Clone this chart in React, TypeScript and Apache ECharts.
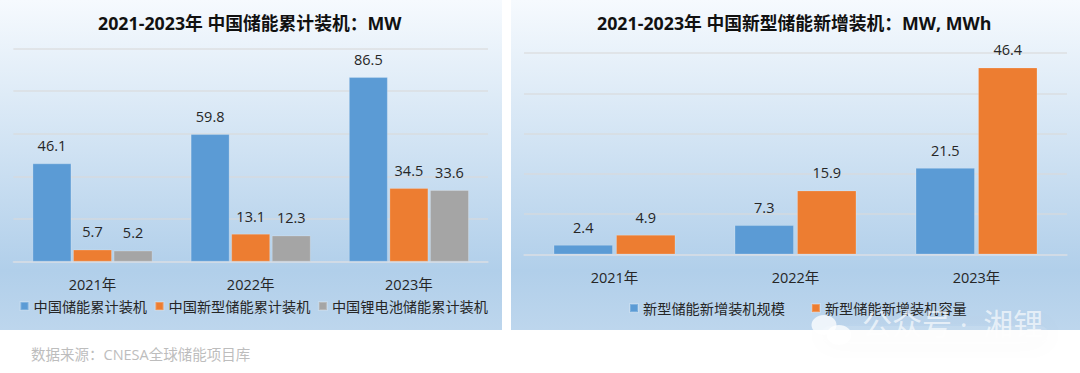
import React, { useEffect, useRef } from "react";
import * as echarts from "echarts";

const categories = ["2021年", "2022年", "2023年"];
const cumulativeTotal = [46.1, 59.8, 86.5];
const cumulativeNewType = [5.7, 13.1, 34.5];
const cumulativeLithium = [5.2, 12.3, 33.6];
const addedPower = [2.4, 7.3, 21.5];
const addedEnergy = [4.9, 15.9, 46.4];

const BLUE = "#5b9bd5";
const ORANGE = "#ed7d31";
const GRAY = "#a5a5a5";
const TEXT = "#262626";
const FONT = "'Open Sans', 'Noto Sans CJK SC', sans-serif";

const panelFill = {
  type: "linear", x: 0, y: 0, x2: 0, y2: 1,
  colorStops: [
    { offset: 0, color: "#f6fafe" },
    { offset: 0.82, color: "#b1cfea" },
    { offset: 1, color: "#bdd6ed" },
  ],
};

const barSeries = (name: string, data: number[], color: string, idx: number, width: number, gap: string, labelDist: number) => ({
  name,
  type: "bar",
  data,
  xAxisIndex: idx,
  yAxisIndex: idx,
  barWidth: width,
  barGap: gap,
  itemStyle: { color, borderColor: "rgba(255,255,255,0.2)", borderWidth: 1 },
  label: {
    show: true,
    position: "top",
    distance: labelDist,
    fontFamily: FONT,
    fontSize: 14.5,
    color: TEXT,
    formatter: (p: any) => p.value.toFixed(1),
  },
});

const xAxis = (gridIndex: number, margin: number) => ({
  type: "category",
  gridIndex,
  data: categories,
  axisTick: { show: false },
  axisLine: { lineStyle: { color: "#d3dde8", width: 1.5 } },
  axisLabel: { fontFamily: FONT, fontSize: 14.5, color: TEXT, margin },
});

const yAxis = (gridIndex: number, max: number, interval: number) => ({
  type: "value",
  gridIndex,
  min: 0,
  max,
  interval,
  axisLabel: { show: false },
  axisLine: { show: false },
  axisTick: { show: false },
  splitLine: { lineStyle: { color: "rgba(217,217,217,0.75)", width: 1.5 } },
});

const legend = (left: number, top: number, gap: number, names: string[]) => ({
  left,
  top,
  padding: 0,
  itemWidth: 8,
  itemHeight: 8,
  itemGap: gap,
  icon: "rect",
  selectedMode: false,
  data: names,
  textStyle: { fontFamily: FONT, fontSize: 14.2, color: TEXT },
});

const title = (text: string, left: number) => ({
  text,
  left,
  top: 14.5,
  padding: 0,
  textStyle: { fontFamily: FONT, fontSize: 17.8, fontWeight: "bold", color: "#111" },
});

export default function App() {
  const ref = useRef<HTMLDivElement>(null);
  useEffect(() => {
    document.body.style.margin = "0";
    const chart = echarts.init(ref.current!, undefined, { renderer: "svg" });
    chart.setOption({
      animation: false,
      backgroundColor: "#ffffff",
      title: [
        title("2021-2023年 中国储能累计装机：MW", 98),
        title("2021-2023年 中国新型储能新增装机：MW, MWh", 597),
      ],
      grid: [
        { left: 13.4, top: 48.3, width: 474.6, height: 213.4 },
        { left: 524, top: 53, width: 543, height: 201.5 },
      ],
      xAxis: [xAxis(0, 15.5), xAxis(1, 15.5)],
      yAxis: [yAxis(0, 100, 20), yAxis(1, 50, 10)],
      legend: [
        legend(19.5, 299, 7.5, ["中国储能累计装机", "中国新型储能累计装机", "中国锂电池储能累计装机"]),
        legend(629, 301, 26, ["新型储能新增装机规模", "新型储能新增装机容量"]),
      ],
      series: [
        barSeries("中国储能累计装机", cumulativeTotal, BLUE, 0, 39, "4%", 10.5),
        barSeries("中国新型储能累计装机", cumulativeNewType, ORANGE, 0, 39, "4%", 10.5),
        barSeries("中国锂电池储能累计装机", cumulativeLithium, GRAY, 0, 39, "4%", 10.5),
        barSeries("新型储能新增装机规模", addedPower, BLUE, 1, 59.5, "5%", 10.5),
        barSeries("新型储能新增装机容量", addedEnergy, ORANGE, 1, 59.5, "5%", 10.5),
      ],
      graphic: [
        { type: "rect", z: -10, silent: true, shape: { x: 0, y: 0, width: 502, height: 330 }, style: { fill: panelFill } },
        { type: "rect", z: -10, silent: true, shape: { x: 511, y: 0, width: 569, height: 330 }, style: { fill: panelFill } },
        {
          type: "text", left: 31, top: 347, z: 50, silent: true,
          style: { text: "数据来源：CNESA全球储能项目库", fill: "#bdbdbd", font: `14.5px ${FONT}` },
        },
        { type: "rect", z: 90, silent: true, shape: { x: 822, y: 326, width: 226, height: 16, r: 8 }, style: { fill: "rgba(244,246,248,0.12)", shadowBlur: 26, shadowColor: "rgba(120,120,120,0.22)" } },
        { type: "ellipse", z: 100, silent: true, shape: { cx: 824, cy: 325, rx: 12.5, ry: 10 }, style: { fill: "rgba(255,255,255,0.75)" } },
        { type: "ellipse", z: 100, silent: true, shape: { cx: 839, cy: 335, rx: 12.5, ry: 10 }, style: { fill: "rgba(255,255,255,0.75)" } },
        {
          type: "text", left: 862, top: 308, z: 100, silent: true,
          style: {
            text: "公众号 ·  湘锂",
            fill: "rgba(255,255,255,0.65)",
            font: `30px ${FONT}`,
          },
        },
      ],
    });
    return () => chart.dispose();
  }, []);
  return <div ref={ref} style={{ width: 1080, height: 373 }} />;
}
